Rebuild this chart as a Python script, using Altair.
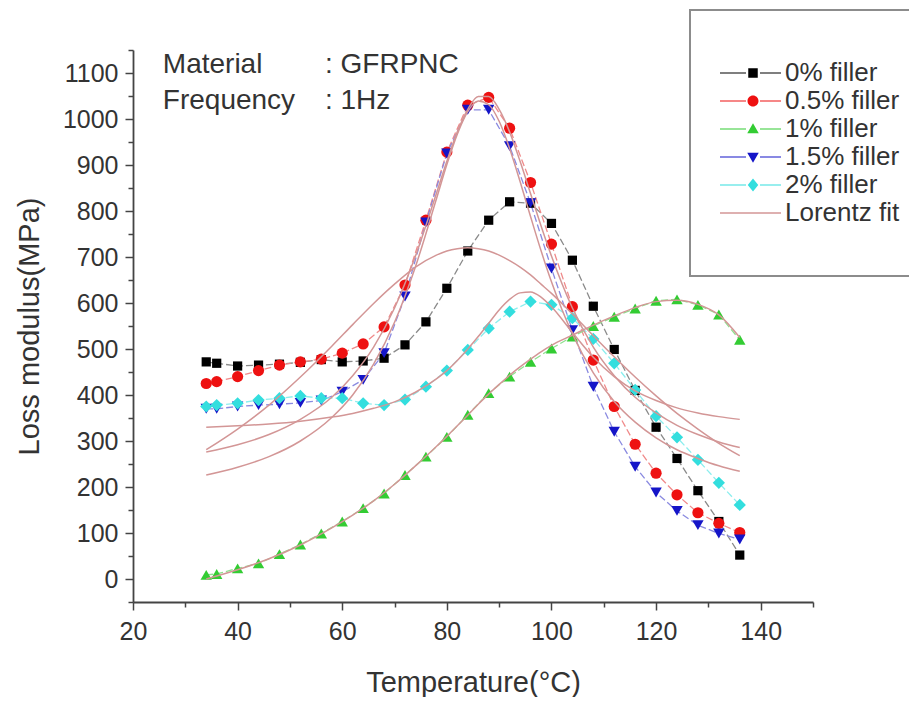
import altair as alt
import pandas as pd

# ---------------- data ----------------
temps = [34, 36, 40, 44, 48, 52, 56, 60, 64, 68, 72, 76, 80, 84, 88, 92, 96,
         100, 104, 108, 112, 116, 120, 124, 128, 132, 136]
series_names = ["0% filler", "0.5% filler", "1% filler", "1.5% filler", "2% filler"]
fit_name = "Lorentz fit"

loss_0 = [472, 469, 463, 465, 467, 471, 477, 472, 474, 480, 509, 559, 632, 713,
          780, 820, 817, 773, 693, 593, 499, 410, 330, 262, 192, 125, 52]
loss_05 = [425, 429, 440, 453, 465, 472, 478, 491, 511, 548, 639, 780, 928, 1030,
           1047, 980, 862, 728, 592, 476, 375, 293, 230, 183, 144, 121, 101]
loss_1 = [9, 11, 23, 34, 54, 75, 99, 125, 154, 186, 226, 266, 309, 357, 404, 440,
          472, 501, 527, 550, 570, 588, 605, 608, 596, 575, 520]
loss_15 = [370, 370, 375, 378, 380, 383, 388, 407, 433, 491, 614, 775, 925, 1020,
           1020, 941, 817, 675, 541, 418, 320, 244, 188, 148, 117, 99, 86]
loss_2 = [375, 378, 382, 389, 393, 398, 393, 393, 382, 378, 390, 418, 453, 498,
          545, 581, 603, 596, 567, 522, 469, 411, 354, 308, 259, 209, 161]

fit_temps = [34, 40, 46, 52, 58, 62, 66, 70, 74, 78, 80, 82, 84, 86, 88, 90, 92,
             94, 96, 98, 100, 104, 108, 112, 116, 120, 124, 128, 132, 136]
fit_0 = [281, 326, 378, 439, 506, 553, 599, 641, 678, 704, 713, 718, 720, 718, 713,
         704, 692, 678, 661, 641, 621, 576, 529, 483, 439, 398, 360, 326, 295, 268]
fit_05 = [276, 292, 314, 347, 395, 442, 504, 589, 702, 838, 908, 972, 1021, 1049,
          1049, 1021, 972, 908, 838, 768, 702, 589, 504, 442, 395, 361, 334, 314, 298, 286]
fit_1 = [0, 20, 44, 74, 111, 139, 170, 206, 246, 288, 310, 333, 356, 380, 402, 423,
         443, 461, 478, 494, 508, 530, 552, 572, 590, 603, 606, 597, 574, 525]
fit_15 = [226, 243, 266, 300, 351, 400, 467, 558, 679, 826, 901, 967, 1016, 1039,
          1031, 995, 936, 864, 788, 714, 646, 533, 448, 386, 341, 307, 281, 262, 246, 234]
fit_2 = [330, 333, 337, 343, 352, 360, 371, 385, 406, 435, 453, 475, 500, 527, 556,
         585, 608, 622, 624, 613, 592, 536, 482, 440, 409, 388, 372, 361, 353, 347]

notes_left = ["Material", "Frequency"]
notes_right = [": GFRPNC", ": 1Hz"]

# ---------------- styling ----------------
FONT = "Liberation Sans"
TXT = "#333333"
marker_colors = ["#000000", "#ee1111", "#33cc33", "#1515c8", "#33dede"]
line_colors = ["#8a8a8a", "#f08a8a", "#8ee08e", "#8a8ae0", "#8ceeee"]
fit_color = "#d39696"
shapes = ["square", "circle", "triangle-up", "triangle-down", "diamond"]
sizes = [85, 125, 130, 130, 150]

meas = pd.DataFrame({
    "temp": temps * 5,
    "modulus": loss_0 + loss_05 + loss_1 + loss_15 + loss_2,
    "series": sum([[s] * len(temps) for s in series_names], []),
})
fits = pd.DataFrame({
    "temp": fit_temps * 5,
    "modulus": fit_0 + fit_05 + fit_1 + fit_15 + fit_2,
    "series": sum([[s] * len(fit_temps) for s in series_names], []),
})
notes = pd.DataFrame({
    "temp": [25.7, 25.7, 56.7, 56.7],
    "modulus": [1100, 1022, 1100, 1022],
    "label": notes_left + notes_right,
})

x_enc = alt.X(
    "temp:Q",
    title="Temperature(°C)",
    scale=alt.Scale(domain=[20, 150], nice=False, zero=False),
    axis=alt.Axis(
        values=list(range(20, 151, 10)),
        labelExpr="datum.value % 20 === 0 && datum.value < 150 ? datum.label : ''",
        tickSize={"condition": {"test": "datum.value % 20 === 0", "value": 8}, "value": 5},
        labelPadding=9, titlePadding=24, labelFlush=False, labelOverlap=False,
        format="d",
    ),
)
y_enc = alt.Y(
    "modulus:Q",
    title="Loss modulus(MPa)",
    scale=alt.Scale(domain=[-50, 1150], nice=False, zero=False),
    axis=alt.Axis(
        values=list(range(-50, 1151, 50)),
        labelExpr="datum.value >= 0 && datum.value % 100 === 0 ? datum.label : ''",
        tickSize={"condition": {"test": "datum.value % 100 === 0", "value": 8}, "value": 5},
        labelPadding=7, titlePadding=18, labelFlush=False, labelOverlap=False,
        format="d",
    ),
)

# legend glyphs: Origin-style "line - marker - line" (unit square coordinates)
line_seg = "M-6.6,-0.12H-1.4V0.12H-6.6Z M1.4,-0.12H5.6V0.12H1.4Z "
legend_paths = [
    line_seg + "M-0.95,-0.95H0.95V0.95H-0.95Z",
    line_seg + "M-1.1,0A1.1,1.1,0,1,0,1.1,0A1.1,1.1,0,1,0,-1.1,0Z",
    line_seg + "M0,-1.15L1.15,0.85H-1.15Z",
    line_seg + "M0,1.15L1.15,-0.85H-1.15Z",
    line_seg + "M0,-1.3L1.05,0L0,1.3L-1.05,0Z",
    "M-6.6,-0.15H5.6V0.15H-6.6Z",
]
all_names = series_names + [fit_name]

legend = alt.Legend(
    title=None, orient="none", legendX=557, legendY=-40, padding=50,
    fillColor="white", strokeColor="#8c8c8c",
    labelFont=FONT, labelFontSize=26, labelColor=TXT, labelOffset=19,
    symbolSize=100, symbolStrokeWidth=0, symbolOpacity=1, symbolFillColor="#000000",
    rowPadding=2, labelLimit=300,
)

dashed = alt.Chart(meas).mark_line(strokeDash=[7, 3], strokeWidth=1.3).encode(
    x=x_enc, y=y_enc,
    stroke=alt.Stroke("series:N", scale=alt.Scale(domain=series_names, range=line_colors), legend=None),
    order="temp:Q",
)

# one marker layer per series, drawn in series order
marker_layers = []
for name, shp, sz, col in zip(series_names, shapes, sizes, marker_colors):
    marker_layers.append(
        alt.Chart(meas).transform_filter(alt.datum.series == name)
        .mark_point(filled=True, opacity=1, strokeWidth=0, shape=shp, size=sz, fill=col)
        .encode(x=x_enc, y=y_enc)
    )

# empty layer whose only job is to carry the legend glyphs
legend_layer = alt.Chart(meas).transform_filter("false").mark_point(filled=True, strokeWidth=0).encode(
    x=x_enc, y=y_enc,
    fill=alt.Fill("series:N", scale=alt.Scale(domain=all_names, range=marker_colors + [fit_color]), legend=legend),
    shape=alt.Shape("series:N", scale=alt.Scale(domain=all_names, range=legend_paths), legend=legend),
)
fit_lines = alt.Chart(fits).mark_line(color=fit_color, strokeWidth=1.5, interpolate="monotone").encode(
    x=x_enc, y=y_enc, detail="series:N", order="temp:Q",
)
text = alt.Chart(notes).mark_text(align="left", baseline="alphabetic", font=FONT, fontSize=28, color=TXT).encode(
    x=x_enc, y=y_enc, text="label:N",
)

chart = alt.layer(dashed, *marker_layers, fit_lines, text, legend_layer).properties(
    width=680, height=552,
    padding={"left": 125, "top": 42, "right": 96, "bottom": 95},
    autosize=alt.AutoSizeParams(type="none"),
).configure_view(strokeWidth=0).configure_axis(
    grid=False, labelFont=FONT, titleFont=FONT, labelFontSize=25, titleFontSize=29,
    labelColor=TXT, titleColor=TXT, titleFontWeight="normal",
    domainColor="#444444", tickColor="#444444", domainWidth=1.8, tickWidth=1.5,
).configure_legend(strokeWidth=2)

chart.save("out.html", embed_options={"renderer": "svg", "actions": False})
